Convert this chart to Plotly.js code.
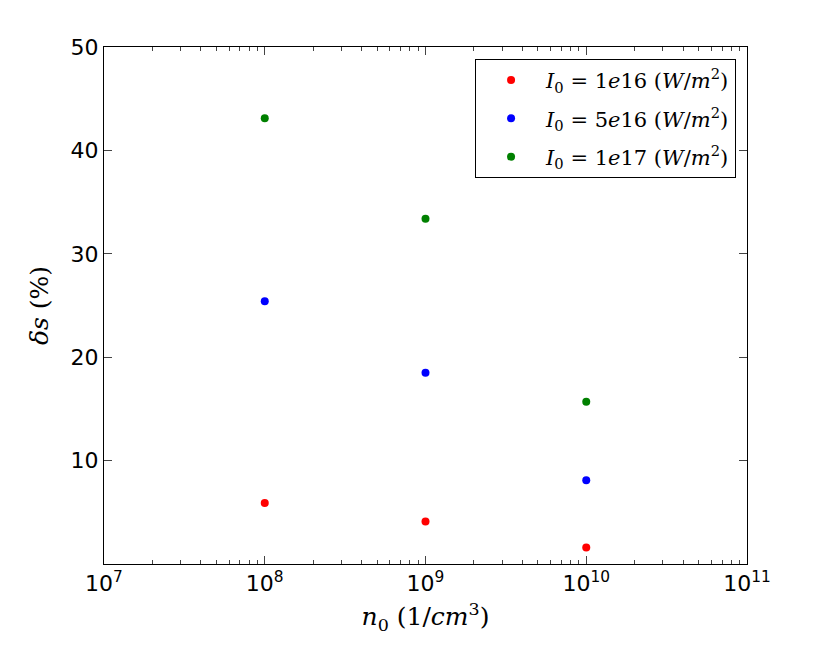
<!DOCTYPE html>
<html>
<head>
<meta charset="utf-8">
<script src="https://cdn.plot.ly/plotly-3.0.1.min.js"></script>
<style>
  body { margin: 0; background: #fff; }
  #chart { width: 830px; height: 646px; }
</style>
</head>
<body>
<div id="chart"></div>
<script>
// electron density n0 (1/cm^3)
const densities = [1e8, 1e9, 1e10];

// delta s (%) for each intensity
const ds_1e16 = [5.9, 4.1, 1.6];
const ds_5e16 = [25.4, 18.5, 8.1];
const ds_1e17 = [43.1, 33.4, 15.7];

const seriesNames = [
    '<i>I</i><sub>0</sub> = 1<i>e</i>16 (<i>W</i>/<i>m</i><sup>2</sup>)',
    '<i>I</i><sub>0</sub> = 5<i>e</i>16 (<i>W</i>/<i>m</i><sup>2</sup>)',
    '<i>I</i><sub>0</sub> = 1<i>e</i>17 (<i>W</i>/<i>m</i><sup>2</sup>)'
];
const seriesColors = ['#ff0000', '#0000ff', '#008000'];

const xTickVals = [1e7, 1e8, 1e9, 1e10, 1e11];
const xTickText = ['10<sup>7</sup>', '10<sup>8</sup>', '10<sup>9</sup>', '10<sup>10</sup>', '10<sup>11</sup>'];
const yTickVals = [10, 20, 30, 40, 50];

const traces = [ds_1e16, ds_5e16, ds_1e17].map((ys, i) => ({
    x: densities,
    y: ys,
    type: 'scatter',
    mode: 'markers',
    name: seriesNames[i],
    legendgroup: 'g' + i,
    marker: { color: seriesColors[i], size: 8 }
}));

const layout = {
    width: 830,
    height: 646,
    margin: { l: 104, r: 83, t: 47, b: 82 },
    paper_bgcolor: '#fff',
    plot_bgcolor: '#fff',
    font: { family: 'DejaVu Sans', size: 22, color: '#000' },
    showlegend: true,
    legend: {
        x: 0.983, y: 0.977, xanchor: 'right', yanchor: 'top',
        bordercolor: '#000', borderwidth: 1, bgcolor: '#fff',
        font: { family: 'DejaVu Serif', size: 21 },
        itemwidth: 60,
        tracegroupgap: 8
    },
    xaxis: {
        type: 'log',
        range: [7, 11],
        tickvals: xTickVals,
        ticktext: xTickText,
        ticks: 'inside',
        ticklen: 8,
        tickwidth: 1,
        showline: true,
        linecolor: '#000',
        linewidth: 1,
        mirror: 'ticks',
        showgrid: false,
        zeroline: false,
        minor: { ticks: 'inside', ticklen: 4, dtick: 'D1', showgrid: false },
        tickfont: { family: 'DejaVu Sans', size: 22 },
        title: {
            text: '<i>n</i><sub>0</sub> (1/<i>cm</i><sup>3</sup>)',
            font: { family: 'DejaVu Serif', size: 25 },
            standoff: 12
        }
    },
    yaxis: {
        range: [0, 50],
        tickvals: yTickVals,
        ticks: 'inside',
        ticklen: 8,
        tickwidth: 1,
        showline: true,
        linecolor: '#000',
        linewidth: 1,
        mirror: 'ticks',
        showgrid: false,
        zeroline: false,
        tickfont: { family: 'DejaVu Sans', size: 22 },
        title: {
            text: '<i>δs</i> (%)',
            font: { family: 'DejaVu Serif', size: 25 },
            standoff: 14
        }
    }
};

Plotly.newPlot('chart', traces, layout, { displayModeBar: false, staticPlot: true });
</script>
</body>
</html>
